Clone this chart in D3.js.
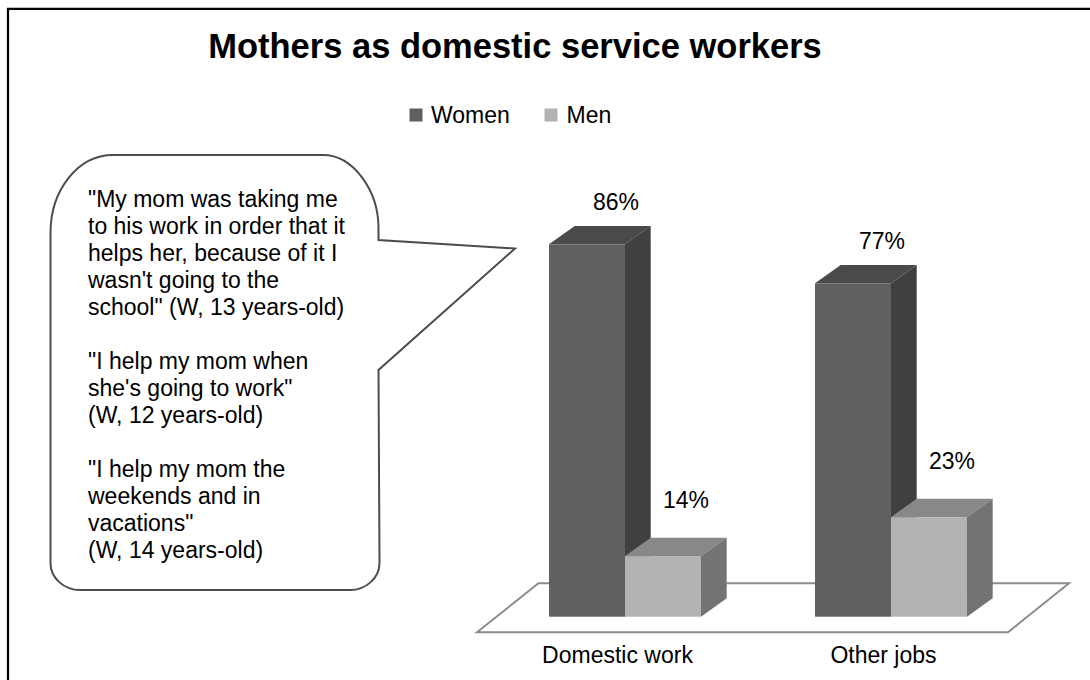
<!DOCTYPE html>
<html>
<head>
<meta charset="utf-8">
<script src="https://cdn.jsdelivr.net/npm/d3@7/dist/d3.min.js"></script>
<style>
  html, body { margin: 0; padding: 0; background: #fff; }
  svg { display: block; font-family: "Liberation Sans", Arial, sans-serif; }
</style>
</head>
<body>
<svg id="chart" width="1090" height="680"></svg>
<script>
// Chart data
const categories = ["Domestic work", "Other jobs"];
const seriesNames = ["Women", "Men"];
const womenValues = [86, 77];
const menValues = [14, 23];
const valueSuffix = "%";

const titleText = "Mothers as domestic service workers";

// Quotes shown in the speech bubble (empty strings are blank lines)
const quoteLines = [
  "\"My mom was taking me",
  "to his work in order that it",
  "helps her, because of it I",
  "wasn't going to the",
  "school\" (W, 13 years-old)",
  "",
  "\"I help my mom when",
  "she's going to work\"",
  "(W, 12 years-old)",
  "",
  "\"I help my mom the",
  "weekends and in",
  "vacations\"",
  "(W, 14 years-old)"
];

// Face shades for each series: front, top, side
const palette = {
  Women: { front: "#606060", top: "#4a4a4a", side: "#404040", legend: "#606060" },
  Men:   { front: "#b3b3b3", top: "#888888", side: "#737373", legend: "#b2b2b2" }
};

const svg = d3.select("#chart");

// Outer frame (left and top edges)
svg.append("path")
  .attr("d", "M8,680 V8.8 H1090")
  .attr("fill", "none")
  .attr("stroke", "#000")
  .attr("stroke-width", 2.2);

// Title
svg.append("text")
  .attr("x", 515).attr("y", 58)
  .attr("text-anchor", "middle")
  .attr("font-size", 34.5)
  .attr("font-weight", "bold")
  .attr("fill", "#000")
  .text(titleText);

// Legend
const legendPos = [{ sx: 409.5, tx: 431 }, { sx: 544.5, tx: 566.5 }];
seriesNames.forEach((s, i) => {
  svg.append("rect")
    .attr("x", legendPos[i].sx).attr("y", 108.5)
    .attr("width", 13).attr("height", 13)
    .attr("fill", palette[s].legend);
  svg.append("text")
    .attr("x", legendPos[i].tx).attr("y", 123)
    .attr("font-size", 23)
    .attr("fill", "#000")
    .text(s);
});

// Scales
const y = d3.scaleLinear().domain([0, 100]).range([616.7, 183.7]);
const x = d3.scaleBand().domain(categories)
  .range([492, 1024]).paddingInner(0.4286).paddingOuter(0.2143);
const xs = d3.scaleBand().domain(seriesNames).range([0, x.bandwidth()]).padding(0);

// 3D depth offsets of the bars
const dx = 25.7, dy = 18.4;

// Floor of the 3D plot
const [r0, r1] = x.range();
const fy0 = y(0) + 15.5, fy1 = y(0) - 33.5, fdx = 61.5;
svg.append("path")
  .attr("d", `M${r0 - 15},${fy0} L${r0 - 15 + fdx},${fy1} L${r1 + 45},${fy1} L${r1 + 45 - fdx + 0.5},${fy0} Z`)
  .attr("fill", "#fff")
  .attr("stroke", "#8c8c8c")
  .attr("stroke-width", 2);

// Bars
const rows = categories.map((c, i) => ({ cat: c, Women: womenValues[i], Men: menValues[i] }));
const labelOffset = { Women: { x: 29, y: 16 }, Men: { x: 23, y: 30 } };

rows.forEach(row => {
  seriesNames.forEach(s => {
    const v = row[s];
    const x0 = x(row.cat) + xs(s);
    const w = xs.bandwidth();
    const yt = y(v), yb = y(0);
    const g = svg.append("g");
    g.append("rect")
      .attr("x", x0).attr("y", yt)
      .attr("width", w).attr("height", yb - yt)
      .attr("fill", palette[s].front);
    g.append("path")
      .attr("d", `M${x0},${yt} L${x0 + dx},${yt - dy} L${x0 + w + dx},${yt - dy} L${x0 + w},${yt} Z`)
      .attr("fill", palette[s].top);
    g.append("path")
      .attr("d", `M${x0 + w},${yt} L${x0 + w + dx},${yt - dy} L${x0 + w + dx},${yb - dy} L${x0 + w},${yb} Z`)
      .attr("fill", palette[s].side);
    // Value label
    svg.append("text")
      .attr("x", x0 + w / 2 + labelOffset[s].x)
      .attr("y", yt - dy - labelOffset[s].y)
      .attr("text-anchor", "middle")
      .attr("font-size", 23)
      .attr("fill", "#000")
      .text(v + valueSuffix);
  });
});

// Category labels
categories.forEach(c => {
  svg.append("text")
    .attr("x", x(c) + x.bandwidth() / 2 - 7.5)
    .attr("y", 663)
    .attr("text-anchor", "middle")
    .attr("font-size", 23)
    .attr("fill", "#000")
    .text(c);
});

// Speech bubble with pointer toward the first group
const bubble = d3.path();
bubble.moveTo(113, 155);
bubble.lineTo(323, 155);
bubble.bezierCurveTo(353, 155, 378, 190, 378.5, 227);
bubble.lineTo(378.5, 240);
bubble.lineTo(515, 248.5);
bubble.lineTo(378.5, 370);
bubble.lineTo(379.5, 563);
bubble.bezierCurveTo(379.5, 578, 366, 590, 350, 590);
bubble.lineTo(80, 590);
bubble.bezierCurveTo(64, 590, 50.5, 578, 50.5, 563);
bubble.lineTo(50.5, 233);
bubble.bezierCurveTo(50.5, 190, 78, 155, 113, 155);
bubble.closePath();
svg.append("path")
  .attr("d", bubble.toString())
  .attr("fill", "#fff")
  .attr("stroke", "#4d4d4d")
  .attr("stroke-width", 2);

const quote = svg.append("text")
  .attr("font-size", 23)
  .attr("fill", "#000");
quoteLines.forEach((line, i) => {
  quote.append("tspan")
    .attr("x", 88)
    .attr("y", 207 + i * 27)
    .text(line);
});
</script>
</body>
</html>
